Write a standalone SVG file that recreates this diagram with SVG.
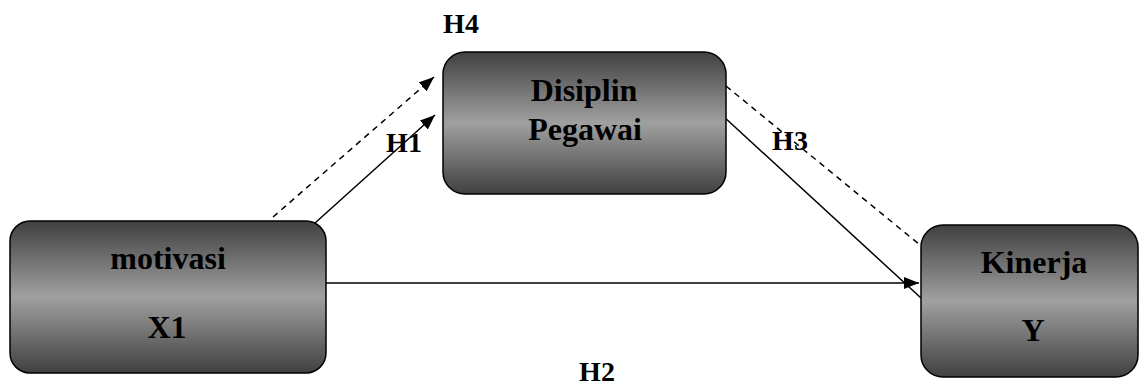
<svg xmlns="http://www.w3.org/2000/svg" width="1140" height="385" viewBox="0 0 1140 385">
<defs>
<linearGradient id="g" x1="0" y1="0" x2="0" y2="1">
<stop offset="0" stop-color="#404040"/>
<stop offset="0.5" stop-color="#a0a0a0"/>
<stop offset="1" stop-color="#404040"/>
</linearGradient>
<marker id="ah" viewBox="0 0 15 12" refX="15" refY="6" markerWidth="15" markerHeight="12" markerUnits="userSpaceOnUse" orient="auto">
<path d="M0,0 L15,6 L0,12 z" fill="#000"/>
</marker>
</defs>
<style>
.box{fill:url(#g);stroke:#000;stroke-width:1.5}
.t{font-family:"Liberation Serif","Times New Roman",serif;font-weight:bold;font-size:32px;fill:#000;text-anchor:middle}
.h{font-size:28px}
.c{stroke:#000;stroke-width:1.5;fill:none}
.d{stroke-dasharray:6,5}
</style>
<rect width="1140" height="385" fill="#fff"/>
<g id="connectors">
<line class="c d" x1="273" y1="217" x2="434" y2="77" marker-end="url(#ah)"/>
<line class="c" x1="315" y1="223" x2="435" y2="115" marker-end="url(#ah)"/>
<line class="c d" x1="726" y1="86" x2="920" y2="245"/>
<line class="c" x1="723" y1="116" x2="921" y2="298"/>
<line class="c" x1="326" y1="283" x2="919" y2="283" marker-end="url(#ah)"/>
</g>
<g id="motivasi">
<rect class="box" x="10" y="221" width="316" height="152" rx="20" stroke="#888"/>
<text class="t" x="168" y="269">motivasi</text>
<text class="t" x="167" y="338">X1</text>
</g>
<g id="disiplin">
<rect class="box" x="443" y="52" width="283" height="142" rx="22"/>
<text class="t" x="584" y="101">Disiplin</text>
<text class="t" x="585" y="140">Pegawai</text>
</g>
<g id="kinerja">
<rect class="box" x="921" y="225" width="217" height="152" rx="22"/>
<text class="t" x="1034" y="273">Kinerja</text>
<text class="t" x="1033" y="341">Y</text>
</g>
<g id="labels">
<text class="t h" x="461" y="33">H4</text>
<text class="t h" x="404" y="152">H1</text>
<text class="t h" x="790" y="150">H3</text>
<text class="t h" x="597" y="381">H2</text>
</g>
</svg>
